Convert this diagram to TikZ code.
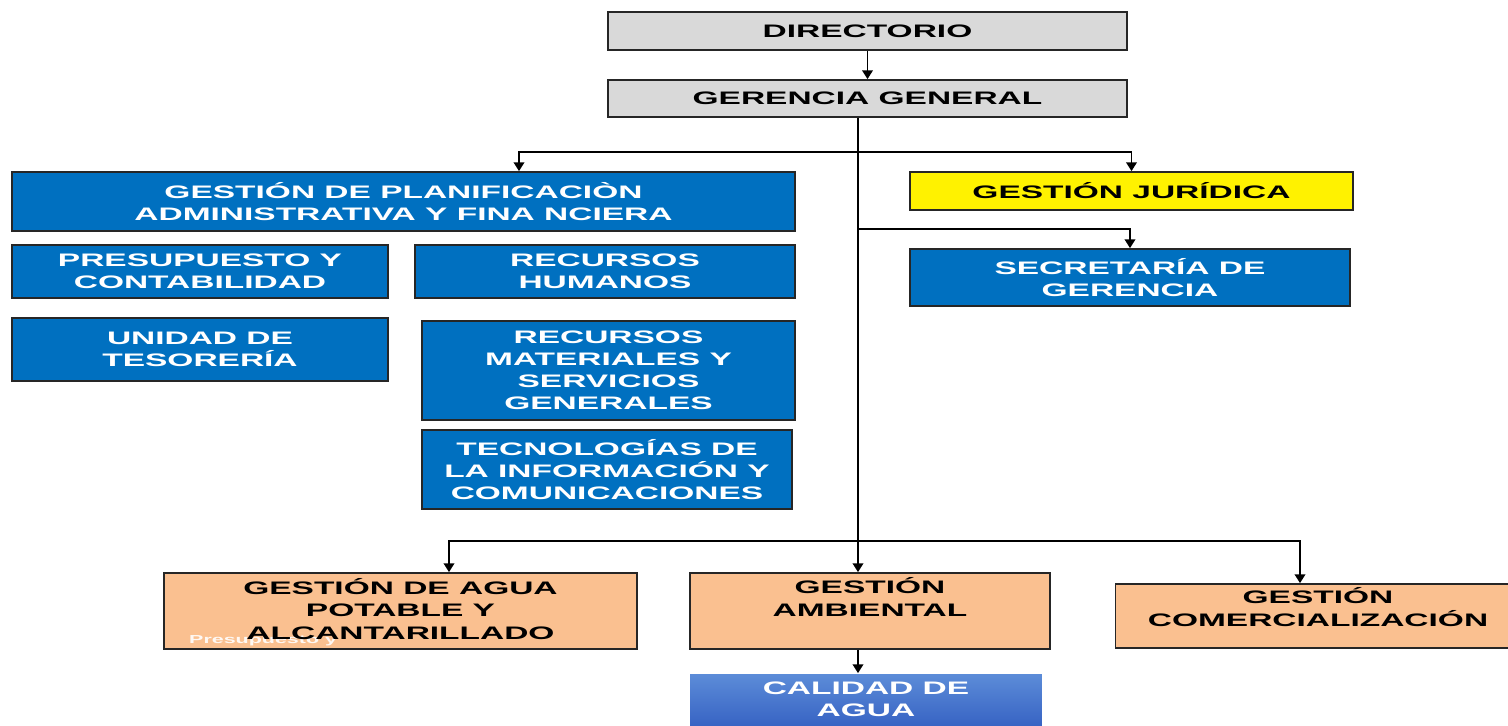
\documentclass[tikz,border=0pt]{standalone}
\usepackage{fontspec}
\newfontfamily\orgfont[FakeStretch=1.85, BoldFeatures={FakeStretch=1.85}]{Liberation Sans}
\usepackage{xcolor}
\usetikzlibrary{arrows.meta, positioning, calc}

\definecolor{grayfill}{HTML}{D9D9D9}
\definecolor{orgblue}{HTML}{0070C0}
\definecolor{peach}{HTML}{FAC090}
\definecolor{calitop}{RGB}{92,140,216}
\definecolor{calibot}{RGB}{56,100,196}

\begin{document}
\begin{tikzpicture}[
    x=0.02cm, y=-0.02cm,
    font=\orgfont\bfseries\fontsize{10.3}{12.6}\selectfont,
    box/.style={rectangle, draw=black!85, line width=1pt, inner sep=0pt, align=center},
    graybox/.style={box, fill=grayfill},
    bluebox/.style={box, fill=orgblue, text=white},
    yellowbox/.style={box, fill=yellow},
    peachbox/.style={box, fill=peach},
    calbox/.style={box, draw=none, top color=calitop, bottom color=calibot, text=white},
    line/.style={line width=1pt, black},
    arrow/.style={line, -{Triangle[width=6pt,length=5pt]}}
]
\useasboundingbox (0,0) rectangle (1508,725);

% === Top: Directorio and Gerencia ===
\node[graybox, minimum width=10.38cm, minimum height=0.76cm] (dir) at (867.5,31) {DIRECTORIO};
\node[graybox, minimum width=10.38cm, minimum height=0.74cm] (gg) at (867.5,98.5) {GERENCIA GENERAL};

% === Left: Planificacion block ===
\node[bluebox, minimum width=15.66cm, minimum height=1.18cm] (gpaf) at (403.5,201.5) {GESTIÓN DE PLANIFICACIÒN\\ADMINISTRATIVA Y FINA NCIERA};
\node[bluebox, minimum width=7.52cm, minimum height=1.06cm] (pc) at (200,271.5) {PRESUPUESTO Y\\CONTABILIDAD};
\node[bluebox, minimum width=7.6cm, minimum height=1.06cm] (rh) at (605,271.5) {RECURSOS\\HUMANOS};
\node[bluebox, minimum width=7.52cm, minimum height=1.26cm] (ut) at (200,349.5) {UNIDAD DE\\TESORERÍA};
\node[bluebox, minimum width=7.46cm, minimum height=1.98cm] (rm) at (608.5,370.5) {RECURSOS\\MATERIALES Y\\SERVICIOS\\GENERALES};
\node[bluebox, minimum width=7.4cm, minimum height=1.58cm] (tic) at (607,469.5) {TECNOLOGÍAS DE\\LA INFORMACIÓN Y\\COMUNICACIONES};

% === Right: staff units ===
\node[yellowbox, minimum width=8.86cm, minimum height=0.76cm] (gj) at (1131.5,191) {GESTIÓN JURÍDICA};
\node[bluebox, minimum width=8.8cm, minimum height=1.14cm] (sec) at (1130,277.5) {SECRETARÍA DE\\GERENCIA};

% === Bottom: operative units ===
\node[peachbox, minimum width=9.46cm, minimum height=1.52cm] (gapa) at (400.5,611) {};
\node[anchor=base west, text=white, opacity=0.9, font=\orgfont\bfseries\fontsize{6.6}{7}\selectfont] (stray) at (183,643) {Presupuesto y};
\node[align=center] (gapatxt) at (400.5,609) {GESTIÓN DE AGUA\\POTABLE Y\\ALCANTARILLADO};
\node[peachbox, minimum width=7.2cm, minimum height=1.52cm] (ga) at (870,611) {};
\node[align=center] (gatxt) at (870,597) {GESTIÓN\\AMBIENTAL};
\node[peachbox, minimum width=7.9cm, minimum height=1.28cm] (gc) at (1313,616) {};
\node[align=center] (gctxt) at (1318,607) {GESTIÓN\\COMERCIALIZACIÓN};
\node[calbox, minimum width=7.04cm, minimum height=1.02cm] (cal) at (866,699.5) {CALIDAD DE\\AGUA};

% === Connectors ===
\coordinate (trk) at (858,0);
\coordinate (b1) at (858,152);
\coordinate (b2) at (858,229);
\coordinate (b3) at (858,541);
\coordinate (dropA) at (519,152);
\coordinate (dropB) at (449,541);
\coordinate (dropC) at (1300,541);

\draw[arrow] (dir) -- (gg);
\draw[arrow] (gg.south -| trk) -- (ga.north -| trk);
\draw[arrow] (b1) -| (dropA |- gpaf.north);
\draw[arrow] (b1) -| (gj.north);
\draw[arrow] (b2) -| (sec.north);
\draw[arrow] (b3) -| (dropB |- gapa.north);
\draw[arrow] (b3) -| (dropC |- gc.north);
\draw[arrow] (ga.south -| trk) -- (cal.north -| trk);

\end{tikzpicture}
\end{document}
